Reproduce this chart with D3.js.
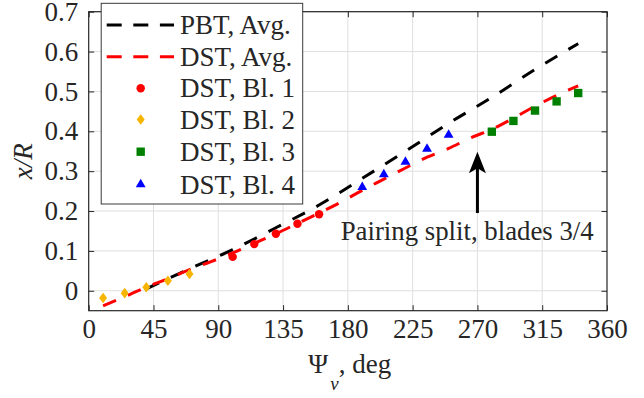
<!DOCTYPE html>
<html>
<head>
<meta charset="utf-8">
<script src="https://cdn.jsdelivr.net/npm/d3@7"></script>
<style>
  html, body { margin: 0; padding: 0; background: #fff; }
  svg { display: block; }
  text { font-family: "Liberation Serif", "Times New Roman", serif; fill: #262626; }
</style>
</head>
<body>
<svg id="chart" width="644" height="398"></svg>
<script>
// ---- data ----
const xTickValues = [0, 45, 90, 135, 180, 225, 270, 315, 360];
const yTickValues = [0, 0.1, 0.2, 0.3, 0.4, 0.5, 0.6, 0.7];
const yTickLabels = ["0", "0.1", "0.2", "0.3", "0.4", "0.5", "0.6", "0.7"];

const pbtAngle = [40, 70, 100, 130, 160, 190, 220, 250, 280, 310, 340];
const pbtAvg   = [0.005, 0.055, 0.103, 0.158, 0.215, 0.282, 0.350, 0.420, 0.485, 0.555, 0.620];

const dstAngle = [10, 25, 40, 55, 70, 85, 100, 115, 130, 145, 160, 175, 190, 205, 220, 235, 250, 265, 280, 295, 310, 325, 340];
const dstAvg   = [-0.038, -0.015, 0.009, 0.030, 0.053, 0.073, 0.095, 0.119, 0.143, 0.169, 0.195, 0.222, 0.252, 0.280, 0.308, 0.335, 0.357, 0.383, 0.405, 0.433, 0.463, 0.490, 0.514];

const bl1Angle = [100, 115, 130, 145, 160];
const bl1Vals  = [0.085, 0.117, 0.143, 0.168, 0.192];
const bl2Angle = [10, 25, 40, 55, 70];
const bl2Vals  = [-0.018, -0.006, 0.009, 0.025, 0.042];
const bl3Angle = [280, 295, 310, 325, 340];
const bl3Vals  = [0.399, 0.426, 0.452, 0.475, 0.496];
const bl4Angle = [190, 205, 220, 235, 250];
const bl4Vals  = [0.260, 0.292, 0.323, 0.356, 0.391];

const legendLabels = ["PBT, Avg.", "DST, Avg.", "DST, Bl. 1", "DST, Bl. 2", "DST, Bl. 3", "DST, Bl. 4"];
const annotationText = "Pairing split, blades 3/4";
const arrowX = 270, arrowTail = 0.195, arrowTip = 0.349;
const annotationPos = [175, 0.127];

// ---- layout ----
const svg = d3.select("#chart");
const L = 88.7, R = 607, T = 11.7, B = 310.7;
const x = d3.scaleLinear().domain([0, 360]).range([L, R]);
const y = d3.scaleLinear().domain([-0.05, 0.7]).range([B, T]);
const axisColor = "#262626";
const fs = 27;

// grid
const grid = svg.append("g");
grid.selectAll("line.gx").data(xTickValues.slice(1, -1)).join("line")
  .attr("x1", d => x(d)).attr("x2", d => x(d)).attr("y1", T).attr("y2", B)
  .attr("stroke", "#dfdfdf").attr("stroke-width", 1);
grid.selectAll("line.gy").data(yTickValues).join("line")
  .attr("y1", d => y(d)).attr("y2", d => y(d)).attr("x1", L).attr("x2", R)
  .attr("stroke", "#dfdfdf").attr("stroke-width", 1);

// axes with inward ticks
const tl = 5.5;
const xAxisB = d3.axisBottom(x).tickValues(xTickValues).tickSizeInner(-tl).tickSizeOuter(0).tickPadding(8);
const gxb = svg.append("g").attr("transform", `translate(0,${B})`).call(xAxisB);
gxb.selectAll("text").style("font-size", fs + "px").attr("fill", axisColor);
const xAxisT = d3.axisTop(x).tickValues(xTickValues).tickSizeInner(-tl).tickSizeOuter(0).tickFormat("");
svg.append("g").attr("transform", `translate(0,${T})`).call(xAxisT);
const yAxisL = d3.axisLeft(y).tickValues(yTickValues).tickSizeInner(-tl).tickSizeOuter(0).tickPadding(10.5)
  .tickFormat((d, i) => yTickLabels[i]);
const gyl = svg.append("g").attr("transform", `translate(${L},0)`).call(yAxisL);
gyl.selectAll("text").style("font-size", fs + "px").attr("fill", axisColor);
const yAxisR = d3.axisRight(y).tickValues(yTickValues).tickSizeInner(-tl).tickSizeOuter(0).tickFormat("");
svg.append("g").attr("transform", `translate(${R},0)`).call(yAxisR);
svg.selectAll(".domain").remove();
svg.selectAll(".tick line").attr("stroke", axisColor).attr("stroke-width", 1);
svg.append("rect").attr("x", L).attr("y", T).attr("width", R - L).attr("height", B - T)
  .attr("fill", "none").attr("stroke", axisColor).attr("stroke-width", 1.2);

// lines
const line = d3.line().x(d => x(d[0])).y(d => y(d[1])).curve(d3.curveMonotoneX);
const pbtData = pbtAngle.map((a, i) => [a, pbtAvg[i]]);
const dstData = dstAngle.map((a, i) => [a, dstAvg[i]]);
svg.append("path").datum(pbtData).attr("d", line).attr("fill", "none")
  .attr("stroke", "#000").attr("stroke-width", 3).attr("stroke-dasharray", "14,13");
svg.append("path").datum(dstData).attr("d", line).attr("fill", "none")
  .attr("stroke", "#ff0000").attr("stroke-width", 3).attr("stroke-dasharray", "14,13");

// markers
const sym = {
  circle: d3.symbol().type(d3.symbolCircle).size(56),
  square: d3.symbol().type(d3.symbolSquare).size(70),
  triangle: d3.symbol().type(d3.symbolTriangle).size(42)
};
function diamondPath() { return "M0,-5.3L4,0L0,5.3L-4,0Z"; }
function drawMarkers(ang, vals, color, pathFn) {
  svg.append("g").selectAll("path").data(ang.map((a, i) => [a, vals[i]])).join("path")
    .attr("transform", d => `translate(${x(d[0])},${y(d[1])})`)
    .attr("d", pathFn).attr("fill", color);
}
drawMarkers(bl1Angle, bl1Vals, "#ff0000", () => sym.circle());
drawMarkers(bl2Angle, bl2Vals, "#f7b500", diamondPath);
drawMarkers(bl3Angle, bl3Vals, "#008000", () => sym.square());
drawMarkers(bl4Angle, bl4Vals, "#0000ff", () => sym.triangle());

// arrow annotation
const ax = x(arrowX), tipY = y(arrowTip), tailY = y(arrowTail);
svg.append("line").attr("x1", ax).attr("x2", ax).attr("y1", tailY).attr("y2", tipY + 16)
  .attr("stroke", "#000").attr("stroke-width", 3);
svg.append("path")
  .attr("d", `M${ax},${tipY}L${ax + 8.5},${tipY + 21.5}L${ax},${tipY + 16.5}L${ax - 8.5},${tipY + 21.5}Z`)
  .attr("fill", "#000");
svg.append("text").attr("x", x(annotationPos[0])).attr("y", y(annotationPos[1]))
  .style("font-size", "26.8px").attr("fill", "#000").text(annotationText);

// axis labels
const xl = svg.append("text").attr("x", 308.3).attr("y", 373.3)
  .style("font-size", fs + "px").attr("fill", axisColor);
xl.append("tspan").text("Ψ");
xl.append("tspan").attr("dx", 2).attr("dy", 17).style("font-style", "italic").style("font-size", "19px").text("v");
xl.append("tspan").attr("dy", -17).text(", deg");

svg.append("text").attr("transform", `translate(31.5,${(T + B) / 2}) rotate(-90)`)
  .attr("text-anchor", "middle").style("font-size", fs + "px").style("font-style", "italic")
  .attr("fill", axisColor).text("x/R");

// legend
const lg = svg.append("g");
lg.append("rect").attr("x", 101.2).attr("y", 3.3).attr("width", 201.5).attr("height", 200.7)
  .attr("fill", "#fff").attr("stroke", "#3a3a3a").attr("stroke-width", 1);
const rowsY = [25, 56.7, 88.3, 119.5, 151.7, 184.5];
const kinds = ["lineK", "lineR", "circle", "diamond", "square", "triangle"];
const colors = ["#000", "#ff0000", "#ff0000", "#f7b500", "#008000", "#0000ff"];
legendLabels.forEach((lab, i) => {
  const cy = rowsY[i];
  if (kinds[i].startsWith("line")) {
    lg.append("line").attr("x1", 106.7).attr("x2", 174).attr("y1", cy).attr("y2", cy)
      .attr("stroke", colors[i]).attr("stroke-width", 3).attr("stroke-dasharray", "15,11.6");
  } else {
    let p;
    if (kinds[i] === "circle") p = sym.circle();
    else if (kinds[i] === "diamond") p = diamondPath();
    else if (kinds[i] === "square") p = sym.square();
    else p = sym.triangle();
    lg.append("path").attr("transform", `translate(140.7,${cy})`).attr("d", p).attr("fill", colors[i]);
  }
  lg.append("text").attr("x", 180).attr("y", cy + 9).style("font-size", fs + "px")
    .attr("fill", "#000").text(lab);
});
</script>
</body>
</html>
